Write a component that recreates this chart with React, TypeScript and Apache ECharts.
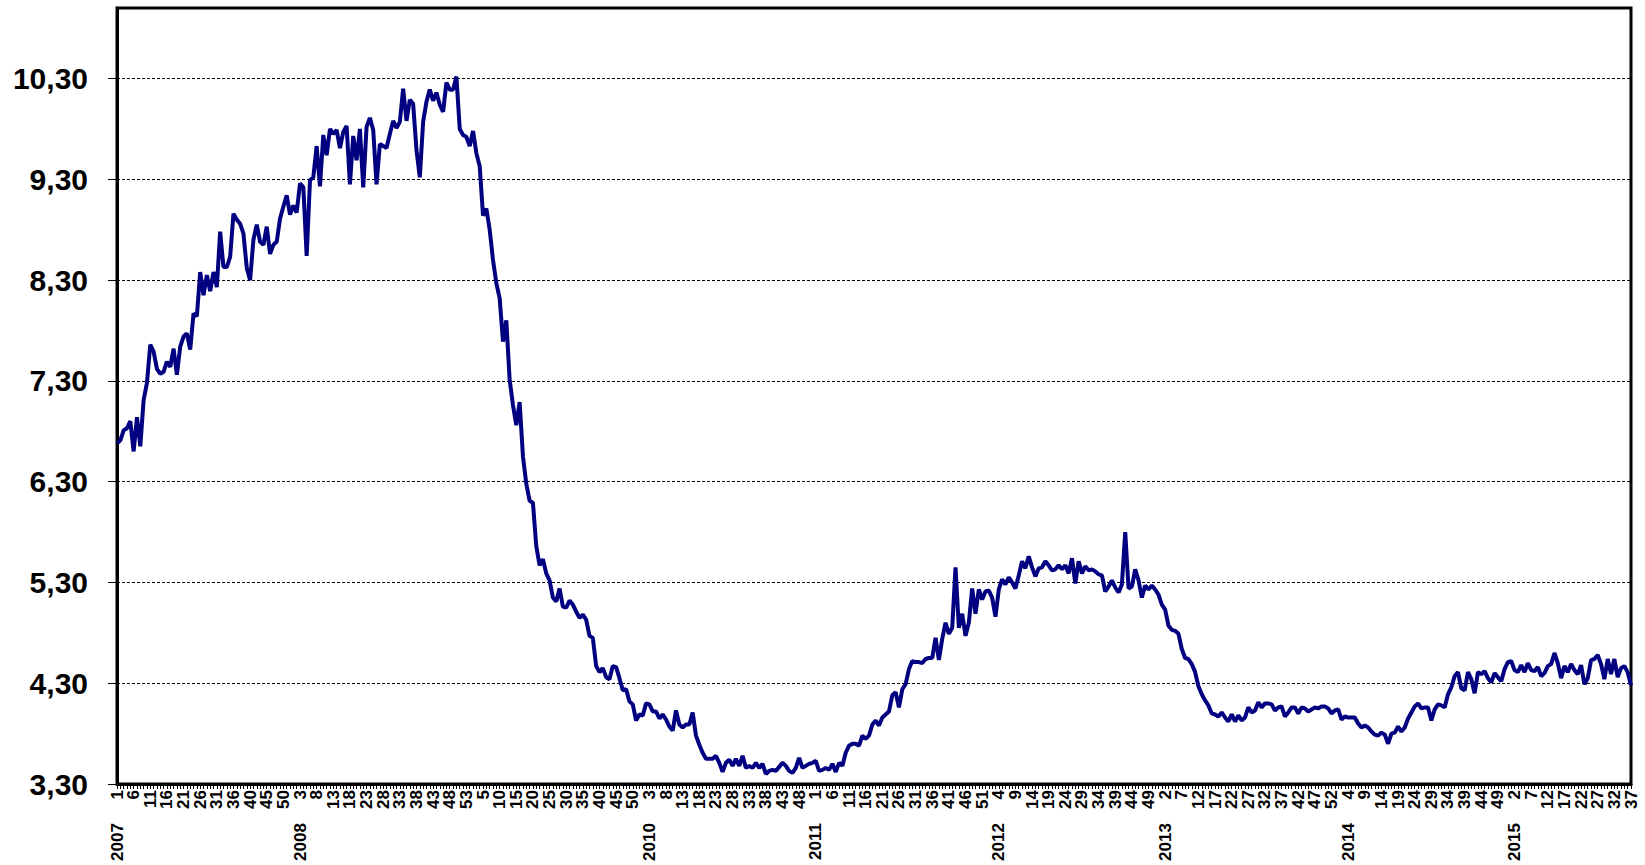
import React, { useEffect, useRef } from "react";
import * as echarts from "echarts";

// Weekly values, one array per year
const v2007 = [6.68, 6.71, 6.81, 6.83, 6.9, 6.6, 6.94, 6.65, 7.11, 7.28, 7.66, 7.59, 7.42, 7.37, 7.39, 7.49, 7.44, 7.62, 7.36, 7.64, 7.74, 7.77, 7.61, 7.97, 7.94, 8.38, 8.15, 8.35, 8.19, 8.38, 8.23, 8.78, 8.43, 8.43, 8.53, 8.96, 8.9, 8.86, 8.76, 8.42, 8.3, 8.7, 8.85, 8.68, 8.65, 8.83, 8.56, 8.65, 8.68, 8.91, 9.03, 9.14, 8.95];
const v2008 = [9.04, 8.97, 9.26, 9.22, 8.54, 9.29, 9.32, 9.63, 9.23, 9.74, 9.54, 9.8, 9.75, 9.79, 9.61, 9.77, 9.83, 9.25, 9.73, 9.49, 9.8, 9.22, 9.82, 9.91, 9.79, 9.25, 9.65, 9.63, 9.61, 9.75, 9.88, 9.81, 9.87, 10.2, 9.88, 10.09, 10.05, 9.59, 9.32, 9.87, 10.07, 10.19, 10.08, 10.16, 10.04, 9.97, 10.26, 10.19, 10.19, 10.32, 9.8, 9.74, 9.72];
const v2009 = [9.63, 9.78, 9.56, 9.43, 8.94, 9.01, 8.8, 8.5, 8.27, 8.12, 7.69, 7.9, 7.31, 7.06, 6.86, 7.09, 6.55, 6.28, 6.11, 6.09, 5.66, 5.47, 5.53, 5.39, 5.32, 5.15, 5.11, 5.24, 5.06, 5.05, 5.12, 5.08, 5.01, 4.95, 4.98, 4.93, 4.77, 4.75, 4.47, 4.41, 4.45, 4.36, 4.34, 4.47, 4.46, 4.35, 4.23, 4.24, 4.12, 4.09, 3.93, 3.99];
const v2010 = [3.98, 4.1, 4.09, 4.02, 4.02, 3.95, 3.99, 3.94, 3.87, 3.83, 4.03, 3.89, 3.86, 3.89, 3.89, 4.01, 3.78, 3.69, 3.61, 3.55, 3.55, 3.55, 3.58, 3.51, 3.42, 3.51, 3.54, 3.48, 3.55, 3.48, 3.58, 3.46, 3.48, 3.46, 3.51, 3.46, 3.5, 3.4, 3.43, 3.44, 3.43, 3.47, 3.51, 3.48, 3.43, 3.41, 3.46, 3.56, 3.46, 3.48, 3.5, 3.51];
const v2011 = [3.53, 3.43, 3.44, 3.46, 3.44, 3.5, 3.42, 3.51, 3.48, 3.61, 3.68, 3.7, 3.7, 3.68, 3.78, 3.75, 3.78, 3.89, 3.93, 3.88, 3.96, 3.99, 4.02, 4.18, 4.21, 4.06, 4.24, 4.29, 4.44, 4.52, 4.51, 4.51, 4.5, 4.54, 4.55, 4.55, 4.75, 4.53, 4.74, 4.9, 4.79, 4.85, 5.45, 4.85, 4.99, 4.77, 4.9, 5.24, 4.99, 5.23, 5.13, 5.21];
const v2012 = [5.22, 5.15, 4.96, 5.23, 5.33, 5.28, 5.35, 5.3, 5.24, 5.37, 5.51, 5.44, 5.56, 5.45, 5.36, 5.44, 5.45, 5.51, 5.47, 5.42, 5.43, 5.47, 5.43, 5.47, 5.39, 5.54, 5.29, 5.51, 5.39, 5.46, 5.42, 5.43, 5.41, 5.38, 5.37, 5.21, 5.26, 5.32, 5.25, 5.2, 5.28, 5.8, 5.24, 5.26, 5.43, 5.32, 5.15, 5.27, 5.23, 5.27, 5.23, 5.18];
const v2013 = [5.08, 5.03, 4.87, 4.83, 4.82, 4.79, 4.64, 4.55, 4.54, 4.49, 4.41, 4.27, 4.19, 4.13, 4.08, 4.0, 3.99, 3.97, 4.01, 3.96, 3.92, 3.99, 3.92, 3.98, 3.93, 3.96, 4.06, 4.01, 4.03, 4.11, 4.06, 4.1, 4.1, 4.09, 4.03, 4.06, 4.07, 3.97, 4.01, 4.06, 4.06, 4.0, 4.06, 4.05, 4.02, 4.04, 4.06, 4.05, 4.07, 4.07, 4.05, 4.0, 4.03];
const v2014 = [4.04, 3.94, 3.97, 3.96, 3.96, 3.96, 3.9, 3.86, 3.88, 3.86, 3.82, 3.79, 3.78, 3.81, 3.79, 3.7, 3.8, 3.81, 3.87, 3.82, 3.86, 3.95, 4.01, 4.07, 4.1, 4.05, 4.06, 4.06, 3.93, 4.04, 4.09, 4.08, 4.06, 4.19, 4.26, 4.37, 4.41, 4.25, 4.23, 4.41, 4.34, 4.2, 4.41, 4.39, 4.42, 4.35, 4.31, 4.4, 4.36, 4.32, 4.44, 4.51];
const v2015 = [4.52, 4.43, 4.41, 4.48, 4.41, 4.5, 4.43, 4.42, 4.46, 4.37, 4.4, 4.47, 4.49, 4.6, 4.5, 4.35, 4.47, 4.41, 4.49, 4.43, 4.39, 4.48, 4.29, 4.35, 4.53, 4.54, 4.58, 4.49, 4.34, 4.54, 4.39, 4.54, 4.36, 4.45, 4.47, 4.41, 4.28];

// Week runs: [year, first week, last week] (2007 week 37 appears twice in the source)
const weekRuns: [number, number, number][] = [
  [2007, 1, 37], [2007, 37, 52], [2008, 1, 53], [2009, 1, 52], [2010, 1, 52],
  [2011, 1, 52], [2012, 1, 52], [2013, 1, 53], [2014, 1, 52], [2015, 1, 37],
];

const yTicks = { min: 3.3, max: 11.0, step: 1 };
const labelEvery = 5;

const values = [...v2007, ...v2008, ...v2009, ...v2010, ...v2011, ...v2012, ...v2013, ...v2014, ...v2015];
const categories: string[] = [];
weekRuns.forEach(([y, a, b]) => {
  for (let w = a; w <= b; w++) categories.push(`${y} ${w}`);
});

const NB = "\u00a0";

export default function App() {
  const ref = useRef<HTMLDivElement>(null);
  useEffect(() => {
    if (!ref.current) return;
    const chart = echarts.init(ref.current, undefined, { renderer: "svg" });
    chart.setOption({
      animation: false,
      backgroundColor: "#fff",
      grid: {
        left: 117, right: 14, top: 8, bottom: 81,
        show: true, borderColor: "#000", borderWidth: 3,
      },
      xAxis: {
        type: "category",
        data: categories,
        boundaryGap: false,
        axisLine: { show: true, lineStyle: { color: "#000", width: 3 } },
        axisTick: { show: true, interval: 0, length: 5, lineStyle: { color: "#000", width: 1 } },
        axisLabel: {
          interval: 0,
          rotate: 90,
          margin: 6,
          hideOverlap: false,
          color: "#000",
          fontFamily: "Liberation Sans, Arial, sans-serif",
          fontWeight: "bold",
          fontSize: 17,
          lineHeight: 12,
          formatter: (val: string, idx: number) => {
            if (idx % labelEvery !== 0) return "";
            const [y, w] = val.split(" ");
            return Number(w) <= 4 ? y + NB.repeat(5) + w : w;
          },
        },
        splitLine: { show: false },
      },
      yAxis: {
        type: "value",
        min: yTicks.min,
        max: yTicks.max,
        interval: yTicks.step,
        axisLine: { show: true, lineStyle: { color: "#000", width: 3 } },
        axisTick: { show: true, length: 9, lineStyle: { color: "#000", width: 1 } },
        axisLabel: {
          showMaxLabel: false,
          margin: 29,
          color: "#000",
          fontFamily: "Liberation Sans, Arial, sans-serif",
          fontWeight: "bold",
          fontSize: 30,
          formatter: (v: number) => v.toFixed(2).replace(".", ","),
        },
        splitLine: { show: true, lineStyle: { color: "#000", width: 1, type: [3, 2] } },
      },
      series: [
        {
          type: "line",
          data: values,
          symbol: "none",
          lineStyle: { color: "#000080", width: 4 },
          itemStyle: { color: "#000080" },
        },
      ],
    });
    return () => chart.dispose();
  }, []);
  return (
    <div
      ref={ref}
      style={{ position: "absolute", left: 0, top: 0, width: 1645, height: 865 }}
    />
  );
}
